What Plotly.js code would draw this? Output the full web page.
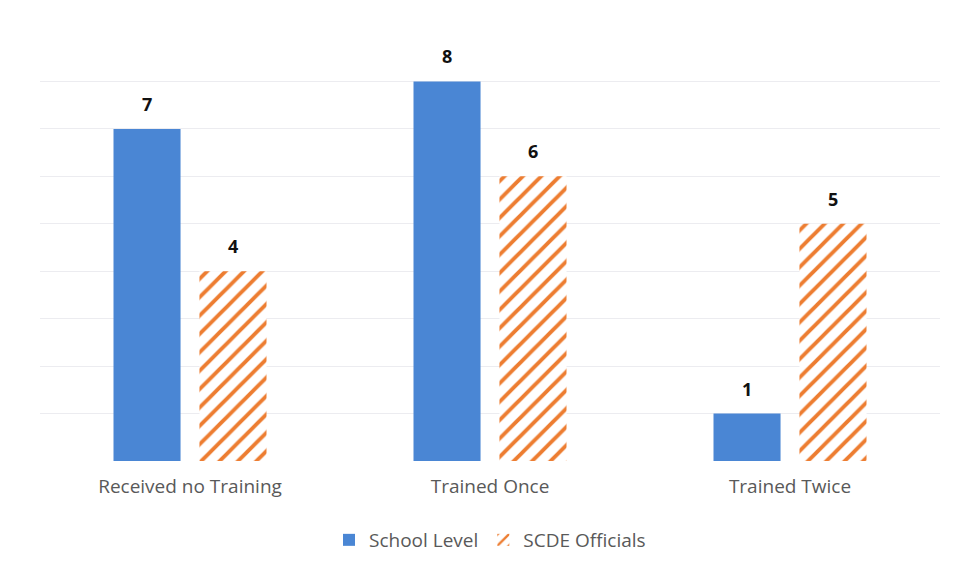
<!DOCTYPE html>
<html>
<head>
<meta charset="utf-8">
<script src="https://cdn.plot.ly/plotly-3.0.1.min.js"></script>
<style>html,body{margin:0;padding:0;background:#fff;}#chart{width:955px;height:572px;}</style>
</head>
<body>
<div id="chart"></div>
<script>
const categories = ["Received no Training", "Trained Once", "Trained Twice"];
const schoolLevel = [7, 8, 1];
const scdeOfficials = [4, 6, 5];
const seriesNames = ["School Level", "SCDE Officials"];

const traces = [
  {
    type: "bar", name: seriesNames[0], x: categories, y: schoolLevel,
    marker: {color: "#4A86D4"}, hoverinfo: "x+y"
  },
  {
    type: "bar", name: seriesNames[1], x: categories, y: scdeOfficials,
    marker: {color: "#ED7D31", pattern: {shape: "/", fgcolor: "#ED7D31", bgcolor: "#ffffff", size: 13, solidity: 0.3}},
    hoverinfo: "x+y"
  }
];

const annotations = [];
[schoolLevel, scdeOfficials].forEach((vals, si) => {
  vals.forEach((v, i) => {
    annotations.push({
      x: categories[i], y: v, xref: "x", yref: "y", text: "<b>" + v + "</b>",
      showarrow: false, yanchor: "bottom", yshift: 11, xshift: si === 0 ? -43 : 43,
      font: {family: "Open Sans, sans-serif", size: 18, color: "#111111"}
    });
  });
});

const layout = {
  width: 955, height: 572,
  margin: {l: 40, r: 15, t: 34, b: 111},
  paper_bgcolor: "#ffffff", plot_bgcolor: "#ffffff",
  barmode: "group", bargap: 0.427, bargroupgap: 0.22,
  xaxis: {
    showgrid: false, zeroline: false, showline: false, ticks: "",
    ticklabelstandoff: 12,
    tickfont: {family: "Open Sans, sans-serif", size: 19, color: "#595959"}
  },
  yaxis: {
    range: [0, 9], dtick: 1, showticklabels: false, ticks: "",
    showgrid: true, gridcolor: "#ECECF0", gridwidth: 1, zeroline: false
  },
  showlegend: true,
  legend: {
    orientation: "h", x: 0.5, xanchor: "center", y: -0.185, yanchor: "middle",
    font: {family: "Open Sans, sans-serif", size: 19, color: "#595959"},
    itemwidth: 30
  },
  annotations: annotations
};

Plotly.newPlot("chart", traces, layout, {displayModeBar: false, staticPlot: true});
</script>
</body>
</html>
